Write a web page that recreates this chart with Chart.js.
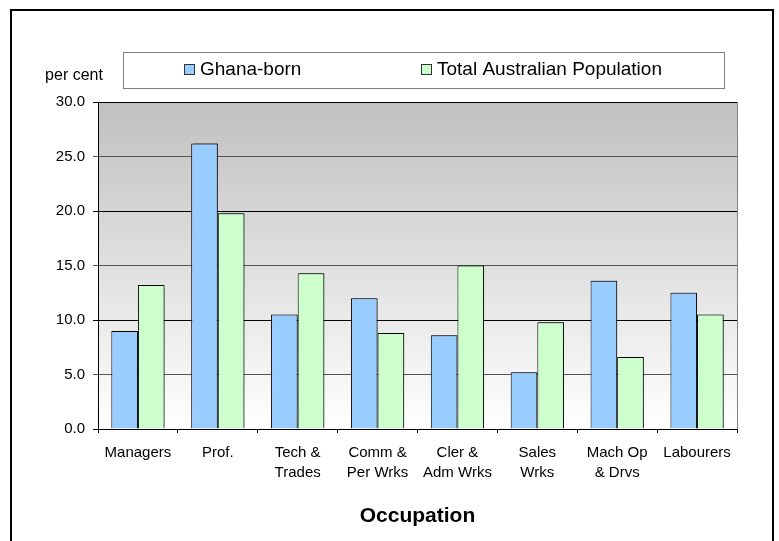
<!DOCTYPE html>
<html>
<head>
<meta charset="utf-8">
<script src="https://cdn.jsdelivr.net/npm/chart.js@4"></script>
<style>
  html, body { margin: 0; padding: 0; background: #ffffff; }
  #wrap { position: relative; width: 779px; height: 541px; }
</style>
</head>
<body>
<div id="wrap"><canvas id="c" width="779" height="541"></canvas></div>
<script>
// ---- data ----
const categories = ["Managers", "Prof.", ["Tech &", "Trades"], ["Comm &", "Per Wrks"], ["Cler &", "Adm Wrks"], ["Sales", "Wrks"], ["Mach Op", "& Drvs"], "Labourers"];
const ghanaBorn = [9.0, 26.2, 10.5, 12.0, 8.6, 5.2, 13.6, 12.5];
const totalAustralia = [13.2, 19.8, 14.3, 8.8, 15.0, 9.8, 6.6, 10.5];
const seriesNames = ["Ghana-born", "Total Australian Population"];
const yTickMin = 0, yTickMax = 30, yTickStep = 5;
const yUnitLabel = "per cent";
const xAxisTitle = "Occupation";

const FONT = "'Liberation Sans', Arial, Helvetica, sans-serif";
Chart.defaults.font.family = FONT;
Chart.defaults.color = "#000000";

const framePlugin = {
  id: 'frame',
  beforeDraw(chart) {
    const ctx = chart.ctx;
    const a = chart.chartArea;
    ctx.save();
    ctx.fillStyle = '#ffffff';
    ctx.fillRect(0, 0, chart.width, chart.height);
    ctx.strokeStyle = '#000000';
    ctx.lineWidth = 2;
    ctx.strokeRect(11, 10, 762, 560);
    // plot background gradient
    const g = ctx.createLinearGradient(0, a.top, 0, a.bottom);
    g.addColorStop(0, '#c0c0c0');
    g.addColorStop(1, '#ffffff');
    ctx.fillStyle = g;
    ctx.fillRect(a.left, a.top, a.right - a.left, a.bottom - a.top);
    // right border of plot
    ctx.strokeStyle = '#808080';
    ctx.lineWidth = 1;
    ctx.beginPath();
    ctx.moveTo(Math.round(a.right) + 0.5, a.top);
    ctx.lineTo(Math.round(a.right) + 0.5, a.bottom);
    ctx.stroke();
    ctx.restore();
  },
  beforeDatasetsDraw(chart) {
    const ctx = chart.ctx;
    ctx.save();
    ctx.shadowColor = 'rgba(0,0,0,0.35)';
    ctx.shadowOffsetX = 2;
    ctx.shadowOffsetY = -1;
    ctx.shadowBlur = 1;
  },
  afterDatasetsDraw(chart) {
    chart.ctx.restore();
  },
  afterDraw(chart) {
    const ctx = chart.ctx;
    ctx.save();
    // legend box
    ctx.strokeStyle = '#808080';
    ctx.lineWidth = 1;
    ctx.strokeRect(123.5, 52.5, 601, 36);
    const itemX = [184, 421];
    ctx.font = '19px ' + FONT;
    ctx.textBaseline = 'middle';
    ctx.textAlign = 'left';
    chart.data.datasets.forEach((ds, i) => {
      const x = itemX[i];
      ctx.fillStyle = ds.backgroundColor;
      ctx.fillRect(x + 0.5, 64.5, 10, 10);
      ctx.strokeStyle = '#333333';
      ctx.strokeRect(x + 0.5, 64.5, 10, 10);
      ctx.fillStyle = '#000000';
      ctx.fillText(ds.label, x + 16, 70);
    });
    // unit label
    ctx.font = '16px ' + FONT;
    ctx.textAlign = 'center';
    ctx.fillText(yUnitLabel, 74, 76);
    ctx.restore();
  }
};

new Chart(document.getElementById('c'), {
  type: 'bar',
  data: {
    labels: categories,
    datasets: [
      { label: seriesNames[0], data: ghanaBorn, backgroundColor: '#99ccff', borderColor: '#000000', borderWidth: 1 },
      { label: seriesNames[1], data: totalAustralia, backgroundColor: '#ccffcc', borderColor: '#000000', borderWidth: 1 }
    ]
  },
  options: {
    responsive: false,
    animation: false,
    devicePixelRatio: 1,
    categoryPercentage: 2 / 3,
    barPercentage: 1.0,
    layout: { padding: { left: 0, top: 102, right: 42, bottom: 0 } },
    plugins: {
      legend: { display: false },
      tooltip: { enabled: false }
    },
    scales: {
      x: {
        afterFit(scale) { scale.height = 112; },
        grid: { display: true, drawOnChartArea: false, drawTicks: true, tickLength: 4, color: '#000000', offset: true },
        border: { display: true, color: '#000000', width: 1 },
        ticks: { font: { size: 15, lineHeight: 1.33 }, color: '#000000', maxRotation: 0, autoSkip: false, padding: 10 },
        title: { display: true, text: xAxisTitle, font: { size: 21, weight: 'bold', lineHeight: 1.2 }, color: '#000000', padding: { top: 0, bottom: 12 } }
      },
      y: {
        min: yTickMin, max: yTickMax,
        afterFit(scale) { scale.width = 98; },
        grid: { color: (c) => (c.tick && c.tick.value % 10 === 0 ? '#000000' : '#555555'), lineWidth: 1, tickLength: 5, drawTicks: true },
        border: { display: true, color: '#000000', width: 1 },
        ticks: { stepSize: yTickStep, font: { size: 15 }, color: '#000000', padding: 8, callback: (v) => Number(v).toFixed(1) }
      }
    }
  },
  plugins: [framePlugin]
});
</script>
</body>
</html>
